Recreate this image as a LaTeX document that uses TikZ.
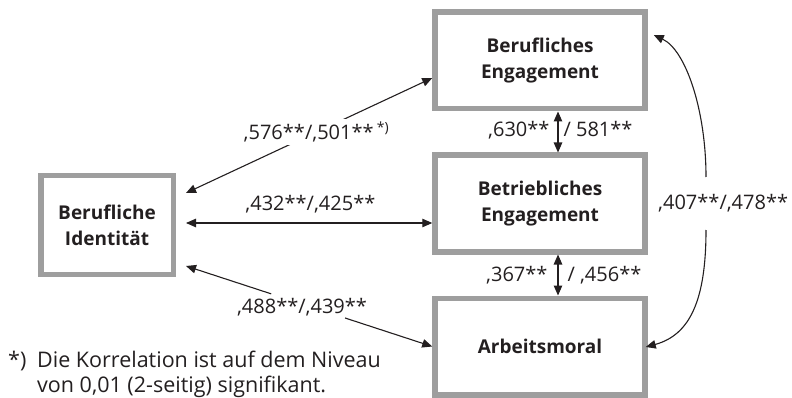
\documentclass[tikz,border=0pt]{standalone}
\usepackage{fontspec}
\setmainfont{Open Sans}
\usetikzlibrary{arrows.meta,calc}
\definecolor{boxgray}{RGB}{158,158,158}
\definecolor{ink}{RGB}{35,31,32}
\begin{document}
\begin{tikzpicture}[x=1pt,y=-1pt,
  >={Triangle[length=10pt,width=8.5pt]},
  box/.style={draw=boxgray, line width=5.5pt, minimum width=210pt, minimum height=96.5pt,
    align=center, font=\fontsize{19}{26}\selectfont\bfseries, text=ink, inner sep=0pt},
  idbox/.style={box, minimum width=132.5pt, minimum height=98.5pt},
  lbl/.style={font=\fontsize{20}{30}\selectfont, text=ink, inner sep=0pt},
  fnote/.style={font=\fontsize{21.5}{25.5}\selectfont, text=ink, inner sep=0pt},
  conn/.style={draw=ink, line width=1.1pt},
]
\useasboundingbox (0,0) rectangle (792,398);

\node[box] (B1) at (540,60.5) {Berufliches\\Engagement};
\node[box] (B2) at (540,203.5) {Betriebliches\\Engagement};
\node[box] (B3) at (540,346.5) {Arbeitsmoral};
\node[idbox] (I) at (107,225) {Berufliche\\Identität};

% Identity <-> Berufliches Engagement
\draw[conn,<->] ([xshift=10pt,yshift=32pt]I.east) --
  node[lbl, fill=white, inner sep=3pt, pos=.53] {,576**/,501**\,\textsuperscript{*)}}
  ([yshift=-17.5pt]B1.west);

% Identity <-> Betriebliches Engagement
\draw[conn,<->] ([xshift=10pt,yshift=2pt]I.east) --
  node[lbl, anchor=base, pos=.505, yshift=12pt] {,432**/,425**}
  ([yshift=-19.5pt]B2.west);

% Identity <-> Arbeitsmoral (interrupted by its label)
\coordinate (p3) at ([xshift=10pt,yshift=-41pt]I.east);
\coordinate (q3) at ([yshift=0pt]B3.west);
\coordinate (g1) at ($(p3)!0.346!(q3)$);
\coordinate (g2) at ($(p3)!0.646!(q3)$);
\draw[conn,<-] (p3) -- (g1);
\draw[conn,->] (g2) -- (q3);
\node[lbl, anchor=base] (L3) at (302,313) {,488**/,439**};

% vertical arrows
\draw[conn,<->] ([xshift=18pt]B1.south) -- ([xshift=18pt]B2.north)
  node[lbl, midway, anchor=base east, xshift=-8pt, yshift=-5pt] {,630**}
  node[lbl, midway, anchor=base west, xshift=5pt, yshift=-5pt] {/ 581**};
\draw[conn,<->] ([xshift=18pt]B2.south) -- ([xshift=18pt]B3.north)
  node[lbl, midway, anchor=base east, xshift=-10pt, yshift=-6.5pt] {,367**}
  node[lbl, midway, anchor=base west, xshift=9pt, yshift=-6.5pt] {/ ,456**};

% curved arrow between Berufliches Engagement and Arbeitsmoral
\coordinate (cu) at (706,177);
\coordinate (cl) at (706,230);
\draw[conn,<-] ([xshift=6pt,yshift=25.5pt]B1.east) .. controls +(32,15) and (706,110) .. (cu);
\draw[conn,->] (cl) .. controls (706,300) and (690,335) .. ([xshift=-2pt,yshift=-0.5pt]B3.east);
\node[lbl, anchor=base west] (L4) at (658,209) {,407**/,478**};

% footnote
\node[fnote, anchor=base west] (fnm) at (8,367) {*)};
\node[fnote, anchor=north west, align=left] (fn) at (37,350.5) {Die Korrelation ist auf dem Niveau\\von 0,01 (2-seitig) signifikant.};
\end{tikzpicture}
\end{document}
